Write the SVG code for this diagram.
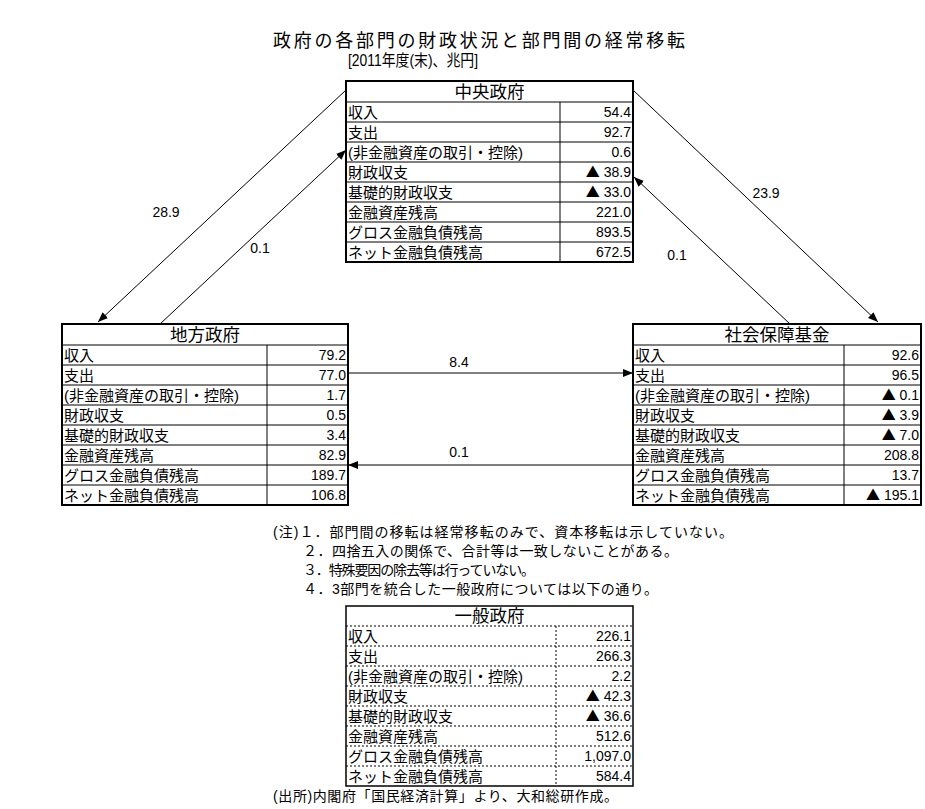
<svg xmlns="http://www.w3.org/2000/svg" width="925" height="809" viewBox="0 0 925 809">
<defs>
<marker id="ah" markerUnits="userSpaceOnUse" markerWidth="10" markerHeight="8" refX="10" refY="4" orient="auto">
<path d="M0,0 L10,4 L0,8 z" fill="#000"/>
</marker>
<style>
.t{font-family:"Liberation Sans","Noto Sans CJK JP",sans-serif;fill:#000}
.lab{font-size:15px}
.val{font-size:14px;text-anchor:end}
.tri{font-family:"Noto Sans CJK JP",sans-serif;font-size:14px}
.hd{font-size:17.5px;text-anchor:middle}
.b{fill:none;stroke:#000;stroke-width:2}
.g{stroke:#000;stroke-width:1}
.d{stroke:#000;stroke-width:1;stroke-dasharray:2,2}
.c{stroke:#000;stroke-width:1;fill:none;marker-end:url(#ah)}
.n{font-size:14px}
.cl{font-size:14px;text-anchor:middle}
</style>
</defs>
<rect width="925" height="809" fill="#fff"/>

<g id="title">
<text class="t" x="273" y="47" font-size="18" textLength="412" lengthAdjust="spacing">政府の各部門の財政状況と部門間の経常移転</text>
<text class="t" x="348" y="66" font-size="16" textLength="130" lengthAdjust="spacingAndGlyphs">[2011年度(末)、兆円]</text>
</g>

<g id="connectors">
<line class="c" x1="346" y1="90" x2="98" y2="322"/>
<line class="c" x1="160" y1="324" x2="346" y2="150"/>
<line class="c" x1="633" y1="90" x2="878" y2="322"/>
<line class="c" x1="790" y1="324" x2="634" y2="177"/>
<line class="c" x1="348" y1="373" x2="633" y2="373"/>
<line class="c" x1="633" y1="465" x2="348" y2="465"/>
<text class="t cl" x="166" y="217">28.9</text>
<text class="t cl" x="260" y="253">0.1</text>
<text class="t cl" x="766" y="198">23.9</text>
<text class="t cl" x="677" y="260">0.1</text>
<text class="t cl" x="459" y="367">8.4</text>
<text class="t cl" x="459" y="457">0.1</text>
</g>

<g id="central">
<rect class="b" x="346" y="81" width="287" height="181"/>
<line class="g" x1="346" y1="102" x2="633" y2="102"/>
<line class="g" x1="346" y1="122" x2="633" y2="122"/>
<line class="g" x1="346" y1="142" x2="633" y2="142"/>
<line class="g" x1="346" y1="162" x2="633" y2="162"/>
<line class="g" x1="346" y1="182" x2="633" y2="182"/>
<line class="g" x1="346" y1="202" x2="633" y2="202"/>
<line class="g" x1="346" y1="222" x2="633" y2="222"/>
<line class="g" x1="346" y1="242" x2="633" y2="242"/>
<line class="g" x1="560" y1="102" x2="560" y2="262"/>
<text class="t hd" x="489.5" y="98">中央政府</text>
<text class="t lab" x="348" y="117.5">収入</text>
<text class="t lab" x="348" y="137.5">支出</text>
<text class="t lab" x="348" y="157.5">(非金融資産の取引・控除)</text>
<text class="t lab" x="348" y="177.5">財政収支</text>
<text class="t lab" x="348" y="197.5">基礎的財政収支</text>
<text class="t lab" x="348" y="217.5">金融資産残高</text>
<text class="t lab" x="348" y="237.5">グロス金融負債残高</text>
<text class="t lab" x="348" y="257.5">ネット金融負債残高</text>
<text class="t val" x="631" y="117">54.4</text>
<text class="t val" x="631" y="137">92.7</text>
<text class="t val" x="631" y="157">0.6</text>
<text class="t val" x="631" y="177"><tspan class="tri">▲</tspan> 38.9</text>
<text class="t val" x="631" y="197"><tspan class="tri">▲</tspan> 33.0</text>
<text class="t val" x="631" y="217">221.0</text>
<text class="t val" x="631" y="237">893.5</text>
<text class="t val" x="631" y="257">672.5</text>
</g>

<g id="local">
<rect class="b" x="62" y="324" width="286" height="181"/>
<line class="g" x1="62" y1="345" x2="348" y2="345"/>
<line class="g" x1="62" y1="365" x2="348" y2="365"/>
<line class="g" x1="62" y1="385" x2="348" y2="385"/>
<line class="g" x1="62" y1="405" x2="348" y2="405"/>
<line class="g" x1="62" y1="425" x2="348" y2="425"/>
<line class="g" x1="62" y1="445" x2="348" y2="445"/>
<line class="g" x1="62" y1="465" x2="348" y2="465"/>
<line class="g" x1="62" y1="485" x2="348" y2="485"/>
<line class="g" x1="267" y1="345" x2="267" y2="505"/>
<text class="t hd" x="205" y="341">地方政府</text>
<text class="t lab" x="64" y="360.5">収入</text>
<text class="t lab" x="64" y="380.5">支出</text>
<text class="t lab" x="64" y="400.5">(非金融資産の取引・控除)</text>
<text class="t lab" x="64" y="420.5">財政収支</text>
<text class="t lab" x="64" y="440.5">基礎的財政収支</text>
<text class="t lab" x="64" y="460.5">金融資産残高</text>
<text class="t lab" x="64" y="480.5">グロス金融負債残高</text>
<text class="t lab" x="64" y="500.5">ネット金融負債残高</text>
<text class="t val" x="346" y="360">79.2</text>
<text class="t val" x="346" y="380">77.0</text>
<text class="t val" x="346" y="400">1.7</text>
<text class="t val" x="346" y="420">0.5</text>
<text class="t val" x="346" y="440">3.4</text>
<text class="t val" x="346" y="460">82.9</text>
<text class="t val" x="346" y="480">189.7</text>
<text class="t val" x="346" y="500">106.8</text>
</g>

<g id="social">
<rect class="b" x="633" y="324" width="288" height="181"/>
<line class="g" x1="633" y1="345" x2="921" y2="345"/>
<line class="g" x1="633" y1="365" x2="921" y2="365"/>
<line class="g" x1="633" y1="385" x2="921" y2="385"/>
<line class="g" x1="633" y1="405" x2="921" y2="405"/>
<line class="g" x1="633" y1="425" x2="921" y2="425"/>
<line class="g" x1="633" y1="445" x2="921" y2="445"/>
<line class="g" x1="633" y1="465" x2="921" y2="465"/>
<line class="g" x1="633" y1="485" x2="921" y2="485"/>
<line class="g" x1="844" y1="345" x2="844" y2="505"/>
<text class="t hd" x="777" y="341">社会保障基金</text>
<text class="t lab" x="635" y="360.5">収入</text>
<text class="t lab" x="635" y="380.5">支出</text>
<text class="t lab" x="635" y="400.5">(非金融資産の取引・控除)</text>
<text class="t lab" x="635" y="420.5">財政収支</text>
<text class="t lab" x="635" y="440.5">基礎的財政収支</text>
<text class="t lab" x="635" y="460.5">金融資産残高</text>
<text class="t lab" x="635" y="480.5">グロス金融負債残高</text>
<text class="t lab" x="635" y="500.5">ネット金融負債残高</text>
<text class="t val" x="919" y="360">92.6</text>
<text class="t val" x="919" y="380">96.5</text>
<text class="t val" x="919" y="400"><tspan class="tri">▲</tspan> 0.1</text>
<text class="t val" x="919" y="420"><tspan class="tri">▲</tspan> 3.9</text>
<text class="t val" x="919" y="440"><tspan class="tri">▲</tspan> 7.0</text>
<text class="t val" x="919" y="460">208.8</text>
<text class="t val" x="919" y="480">13.7</text>
<text class="t val" x="919" y="500"><tspan class="tri">▲</tspan> 195.1</text>
</g>

<g id="notes">
<text class="t n" x="273" y="537" textLength="460" lengthAdjust="spacing">(注)１．部門間の移転は経常移転のみで、資本移転は示していない。</text>
<text class="t n" x="303" y="556" textLength="375" lengthAdjust="spacing">２．四捨五入の関係で、合計等は一致しないことがある。</text>
<text class="t n" x="303" y="575" textLength="232" lengthAdjust="spacing">３．特殊要因の除去等は行っていない。</text>
<text class="t n" x="303" y="594" textLength="355" lengthAdjust="spacing">４．3部門を統合した一般政府については以下の通り。</text>
</g>

<g id="general">
<rect fill="none" stroke="#000" stroke-width="1.5" x="346" y="606" width="287" height="180"/>
<line class="d" x1="346" y1="626" x2="633" y2="626"/>
<line class="d" x1="346" y1="646" x2="633" y2="646"/>
<line class="d" x1="346" y1="666" x2="633" y2="666"/>
<line class="d" x1="346" y1="686" x2="633" y2="686"/>
<line class="d" x1="346" y1="706" x2="633" y2="706"/>
<line class="d" x1="346" y1="726" x2="633" y2="726"/>
<line class="d" x1="346" y1="746" x2="633" y2="746"/>
<line class="d" x1="346" y1="766" x2="633" y2="766"/>
<line class="d" x1="556" y1="626" x2="556" y2="786"/>
<text class="t hd" x="489.5" y="622">一般政府</text>
<text class="t lab" x="348" y="641.5">収入</text>
<text class="t lab" x="348" y="661.5">支出</text>
<text class="t lab" x="348" y="681.5">(非金融資産の取引・控除)</text>
<text class="t lab" x="348" y="701.5">財政収支</text>
<text class="t lab" x="348" y="721.5">基礎的財政収支</text>
<text class="t lab" x="348" y="741.5">金融資産残高</text>
<text class="t lab" x="348" y="761.5">グロス金融負債残高</text>
<text class="t lab" x="348" y="781.5">ネット金融負債残高</text>
<text class="t val" x="631" y="641">226.1</text>
<text class="t val" x="631" y="661">266.3</text>
<text class="t val" x="631" y="681">2.2</text>
<text class="t val" x="631" y="701"><tspan class="tri">▲</tspan> 42.3</text>
<text class="t val" x="631" y="721"><tspan class="tri">▲</tspan> 36.6</text>
<text class="t val" x="631" y="741">512.6</text>
<text class="t val" x="631" y="761">1,097.0</text>
<text class="t val" x="631" y="781">584.4</text>
</g>

<g id="source">
<text class="t n" x="273" y="801" textLength="345" lengthAdjust="spacing">(出所)内閣府「国民経済計算」より、大和総研作成。</text>
</g>
</svg>
